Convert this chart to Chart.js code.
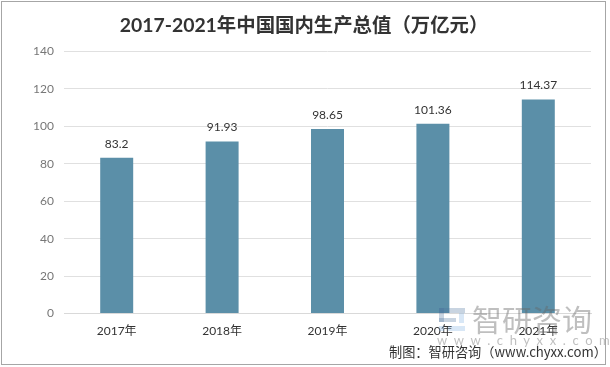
<!DOCTYPE html>
<html>
<head>
<meta charset="utf-8">
<script src="https://cdn.jsdelivr.net/npm/chart.js@4"></script>
<style>
  html, body { margin: 0; padding: 0; background: #fff; }
  #wrap { position: relative; width: 610px; height: 367px; overflow: hidden; }
</style>
</head>
<body>
<div id="wrap"><canvas id="gdp" width="610" height="367"></canvas></div>
<script>
const years = ["2017年", "2018年", "2019年", "2020年", "2021年"];
const gdpValues = [83.2, 91.93, 98.65, 101.36, 114.37];
const yTicks = [0, 20, 40, 60, 80, 100, 120, 140];
const titleText = "2017-2021年中国国内生产总值（万亿元）";
const sourceText = "制图：智研咨询（www.chyxx.com）";

const fontFamily = 'Lato, "Noto Sans CJK SC", sans-serif';

// value labels above the bars
const barLabels = {
  id: "barLabels",
  afterDatasetsDraw(chart) {
    const ctx = chart.ctx;
    ctx.save();
    ctx.font = "12px " + fontFamily;
    ctx.fillStyle = "#333";
    ctx.textAlign = "center";
    ctx.textBaseline = "middle";
    chart.getDatasetMeta(0).data.forEach((bar, i) => {
      ctx.fillText(String(gdpValues[i]), bar.x, bar.y - 14);
    });
    ctx.restore();
  },
};

// title, watermark, source line and the outer border
const decorations = {
  id: "decorations",
  afterDraw(chart) {
    const ctx = chart.ctx;
    ctx.save();

    ctx.fillStyle = "#333";
    ctx.textBaseline = "middle";
    ctx.textAlign = "center";
    ctx.font = "bold 19.4px " + fontFamily;
    ctx.fillText(titleText, 304, 26);
    ctx.textAlign = "left";

    // logo
    ctx.globalAlpha = 0.3;
    ctx.fillStyle = "#4a6f9c";
    ctx.fillRect(439, 308, 26, 5);
    ctx.fillRect(439, 308, 5, 14);
    ctx.fillRect(439, 318, 17, 4);
    ctx.fillStyle = "#7fb0e0";
    ctx.fillRect(439, 326, 5, 5);
    ctx.fillRect(448, 326, 17, 5);
    ctx.fillRect(459, 313, 5, 10);

    // watermark text
    ctx.globalAlpha = 0.42;
    ctx.fillStyle = "#666";
    ctx.font = '30px "Noto Sans CJK SC"';
    ctx.fillText("智研咨询", 472, 320);
    ctx.font = "13px " + fontFamily;
    ctx.letterSpacing = "6.6px";
    ctx.fillText("www.chyxx.com", 437, 341);
    ctx.letterSpacing = "0px";
    ctx.globalAlpha = 1;

    ctx.font = '13.2px "Noto Sans CJK SC"';
    ctx.fillStyle = "#333";
    ctx.fillText(sourceText, 389, 352);

    ctx.strokeStyle = "#a6a6a6";
    ctx.lineWidth = 1;
    ctx.strokeRect(1.5, 1.5, 604, 363);
    ctx.restore();
  },
};

new Chart(document.getElementById("gdp"), {
  type: "bar",
  data: {
    labels: years,
    datasets: [
      {
        label: "国内生产总值",
        data: gdpValues,
        backgroundColor: "#5b8fa8",
        categoryPercentage: 1,
        barPercentage: 0.313,
      },
    ],
  },
  options: {
    responsive: false,
    animation: false,
    layout: { padding: { left: 31, right: 19, top: 51.5, bottom: 23.5 } },
    plugins: {
      legend: { display: false },
      tooltip: { enabled: false },
      title: { display: false },
    },
    scales: {
      x: {
        afterFit(axis) {
          axis.height = 30;
        },
        grid: { display: false, drawTicks: false },
        border: { color: "#d9d9d9" },
        ticks: { color: "#333", font: { family: fontFamily, size: 12 }, padding: 10 },
      },
      y: {
        min: 0,
        max: 140,
        afterBuildTicks(axis) {
          axis.ticks = yTicks.map((v) => ({ value: v }));
        },
        afterFit(axis) {
          axis.width = 33;
        },
        grid: { color: "#e0e0e0", drawTicks: false },
        border: { display: false },
        ticks: { color: "#777", font: { family: fontFamily, size: 12 }, padding: 10 },
      },
    },
  },
  plugins: [barLabels, decorations],
});
</script>
</body>
</html>
